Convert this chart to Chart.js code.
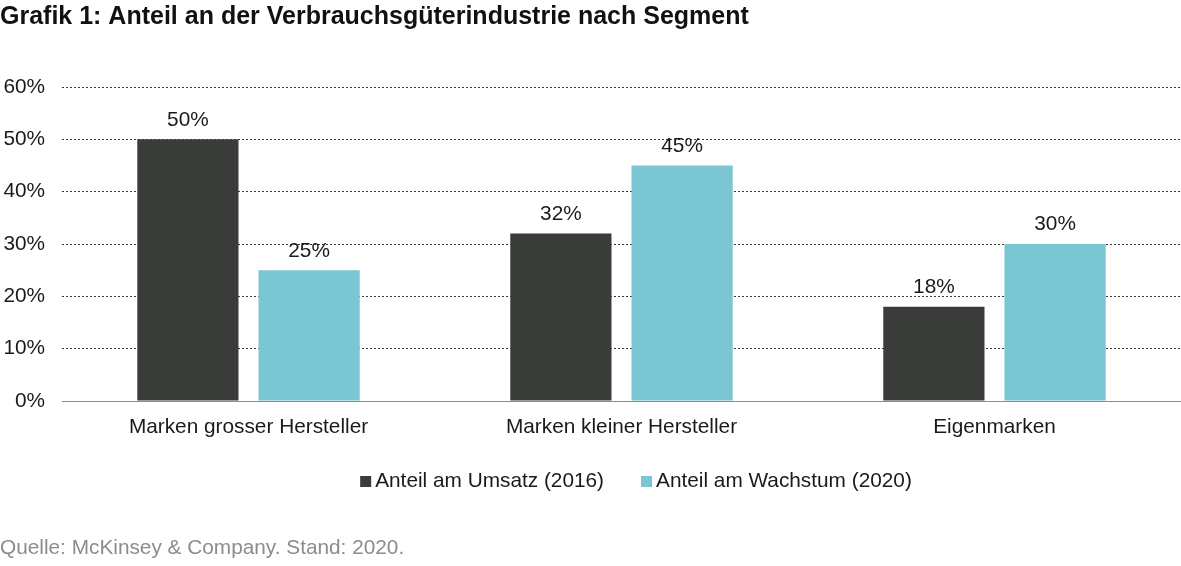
<!DOCTYPE html>
<html>
<head>
<meta charset="utf-8">
<script src="https://cdn.jsdelivr.net/npm/chart.js@4"></script>
<style>
  html, body { margin: 0; padding: 0; background: #fff; }
  #wrap { width: 1181px; height: 566px; position: relative; }
</style>
</head>
<body>
<div id="wrap"><canvas id="grafica"></canvas></div>
<script>
const kategorien = ['Marken grosser Hersteller', 'Marken kleiner Hersteller', 'Eigenmarken'];
const umsatz2016 = [50, 32, 18];
const wachstum2020 = [25, 45, 30];
const yTicks = [0, 10, 20, 30, 40, 50, 60];

const schrift = "'Liberation Sans', Arial, sans-serif";
const groesse = 20.8;

// Prozentwerte über die Balken schreiben
const wertLabels = {
    id: 'wertLabels',
    afterDatasetsDraw(chart) {
        const ctx = chart.ctx;
        ctx.save();
        ctx.font = groesse + 'px ' + schrift;
        ctx.fillStyle = '#1a1a1a';
        ctx.textAlign = 'center';
        ctx.textBaseline = 'bottom';
        chart.data.datasets.forEach((ds, i) => {
            chart.getDatasetMeta(i).data.forEach((bar, j) => {
                ctx.fillText(ds.data[j] + '%', bar.x, bar.y - 9);
            });
        });
        ctx.restore();
    }
};

// Legende mit kleinen Quadraten, etwas rechts der Mitte wie im Original
const legende = {
    id: 'legende',
    afterDraw(chart) {
        const ctx = chart.ctx;
        const box = 11, abstand = 4, zwischen = 37, grundlinie = 487, mitte = 636;
        ctx.save();
        ctx.font = groesse + 'px ' + schrift;
        const breiten = chart.data.datasets.map(ds => ctx.measureText(ds.label).width);
        let gesamt = 0;
        breiten.forEach((b, i) => { gesamt += box + abstand + b + (i > 0 ? zwischen : 0); });
        let x = mitte - gesamt / 2;
        ctx.textAlign = 'left';
        ctx.textBaseline = 'alphabetic';
        chart.data.datasets.forEach((ds, i) => {
            ctx.fillStyle = ds.backgroundColor;
            ctx.fillRect(x, grundlinie - box, box, box);
            ctx.fillStyle = '#1a1a1a';
            ctx.fillText(ds.label, x + box + abstand, grundlinie);
            x += box + abstand + breiten[i] + zwischen;
        });
        ctx.restore();
    }
};

// Quellenangabe unten links
const quelle = {
    id: 'quelle',
    afterDraw(chart) {
        const ctx = chart.ctx;
        ctx.save();
        ctx.font = groesse + 'px ' + schrift;
        ctx.fillStyle = '#8c8c8c';
        ctx.textAlign = 'left';
        ctx.textBaseline = 'middle';
        ctx.fillText('Quelle: McKinsey & Company. Stand: 2020.', 0, 548);
        ctx.restore();
    }
};

var ctx = document.getElementById('grafica').getContext('2d');

var miGrafico = new Chart(ctx, {
    type: 'bar',
    data: {
        labels: kategorien,
        datasets: [{
            label: 'Anteil am Umsatz (2016)',
            data: umsatz2016,
            backgroundColor: '#3a3c3a',
            barPercentage: 0.835,
            categoryPercentage: 0.65
        }, {
            label: 'Anteil am Wachstum (2020)',
            data: wachstum2020,
            backgroundColor: '#7bc6d3',
            barPercentage: 0.835,
            categoryPercentage: 0.65
        }]
    },
    options: {
        responsive: true,
        maintainAspectRatio: false,
        animation: false,
        layout: {
            padding: { left: 0, right: 0, top: 0, bottom: 113 }
        },
        plugins: {
            title: {
                display: true,
                text: 'Grafik 1: Anteil an der Verbrauchsgüterindustrie nach Segment',
                align: 'start',
                color: '#111',
                font: { family: schrift, size: 25, weight: 'bold' },
                padding: { top: 2, bottom: 55 }
            },
            legend: { display: false },
            tooltip: { enabled: false }
        },
        scales: {
            x: {
                grid: { display: false, drawTicks: false },
                border: { display: true, color: '#8c8c8c', width: 1 },
                ticks: {
                    color: '#1a1a1a',
                    font: { family: schrift, size: groesse },
                    padding: 13.5
                }
            },
            y: {
                min: 0,
                max: 60,
                afterBuildTicks(scale) {
                    scale.ticks = yTicks.map(v => ({ value: v }));
                },
                afterFit(scale) {
                    scale.width = 62;
                },
                border: { display: false, dash: [2, 2] },
                grid: {
                    color: '#333',
                    lineWidth: 1,
                    drawTicks: false
                },
                ticks: {
                    color: '#1a1a1a',
                    font: { family: schrift, size: groesse },
                    padding: 17,
                    callback: v => v + '%'
                }
            }
        }
    },
    plugins: [wertLabels, legende, quelle]
});
</script>
</body>
</html>
